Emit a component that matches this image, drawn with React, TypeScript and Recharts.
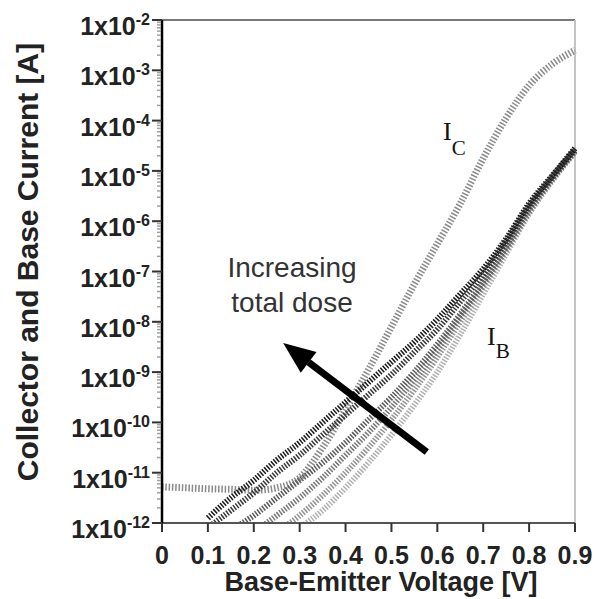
import React from 'react'
import { LineChart, Line, XAxis, YAxis, ReferenceLine } from 'recharts'

// base-emitter voltage [V]
const volts = [0, 0.05, 0.1, 0.15, 0.2, 0.25, 0.3, 0.35, 0.4, 0.45, 0.5, 0.55, 0.6, 0.65, 0.7, 0.75, 0.8, 0.85, 0.9]

// log10 of current [A]
const icLog = [-11.28, -11.3, -11.32, -11.33, -11.35, -11.3, -11.1, -10.5, -9.75, -8.95, -8.1, -7.25, -6.45, -5.65, -4.75, -3.95, -3.3, -2.88, -2.6]

// base current, one curve per dose step (1 = pre-rad, 6 = highest dose)
const ib1 = [null, null, null, null, null, null, -12.1, -11.75, -11.3, -10.8, -10.25, -9.65, -9.0, -8.25, -7.45, -6.65, -5.85, -5.2, -4.63]
const ib2 = [null, null, null, null, null, -12.2, -11.85, -11.45, -11.0, -10.5, -9.95, -9.35, -8.7, -8.0, -7.3, -6.58, -5.82, -5.18, -4.62]
const ib3 = [null, null, null, null, -12.2, -11.85, -11.5, -11.1, -10.65, -10.2, -9.7, -9.15, -8.55, -7.9, -7.25, -6.55, -5.8, -5.17, -4.6]
const ib4 = [null, null, null, -12.15, -11.85, -11.5, -11.15, -10.8, -10.4, -9.95, -9.5, -9.0, -8.45, -7.85, -7.2, -6.5, -5.75, -5.15, -4.6]
const ib5 = [null, null, -12.1, -11.75, -11.4, -11.0, -10.65, -10.25, -9.85, -9.45, -9.05, -8.6, -8.15, -7.6, -7.05, -6.4, -5.7, -5.12, -4.57]
const ib6 = [null, null, -11.9, -11.5, -11.15, -10.75, -10.4, -10.0, -9.6, -9.2, -8.8, -8.4, -7.95, -7.45, -6.95, -6.35, -5.65, -5.1, -4.55]

const xTicks = [0, 0.1, 0.2, 0.3, 0.4, 0.5, 0.6, 0.7, 0.8, 0.9]
const yMajor = [-12, -11, -10, -9, -8, -7, -6, -5, -4, -3, -2]

// arrow "increasing total dose": tail -> head
const arrowFrom = { x: 0.577, y: -10.59 }
const arrowTo = { x: 0.264, y: -8.42 }

const ibSeries = [
  { key: 'b1', color: '#b0b0b0' },
  { key: 'b2', color: '#939393' },
  { key: 'b3', color: '#777777' },
  { key: 'b4', color: '#5a5a5a' },
  { key: 'b5', color: '#363636' },
  { key: 'b6', color: '#1a1a1a' },
]

const data = volts.map((v, i) => ({
  v,
  ic: icLog[i],
  b1: ib1[i],
  b2: ib2[i],
  b3: ib3[i],
  b4: ib4[i],
  b5: ib5[i],
  b6: ib6[i],
}))

// log-spaced minor ticks between decades
const yMinor: number[] = []
yMajor.slice(0, -1).forEach((d) => {
  for (let k = 2; k <= 9; k++) yMinor.push(d + Math.log10(k))
})
const yTicks = [...yMajor, ...yMinor].sort((a, b) => a - b)

const font = 'Liberation Sans, Arial, sans-serif'

function YTick(props: any) {
  const { x, y, payload } = props
  const v = payload.value
  if (!Number.isInteger(v)) {
    return <line x1={x - 5} x2={x - 1} y1={y} y2={y} stroke="#a0a0a0" strokeWidth={1.5} />
  }
  return (
    <g>
      <line x1={x - 10} x2={x} y1={y} y2={y} stroke="#333" strokeWidth={2} />
      <text x={x - 12} y={y + 15} textAnchor="end" fontFamily={font} fontWeight="bold" fontSize={25} fill="#222">
        <tspan>1x10</tspan>
        <tspan fontSize={16} dy={-10}>{v}</tspan>
      </text>
    </g>
  )
}

function XTick(props: any) {
  const { x, y, payload } = props
  return (
    <g>
      <line x1={x} x2={x} y1={y} y2={y + 9} stroke="#333" strokeWidth={2} />
      <text x={x} y={y + 41} textAnchor="middle" fontFamily={font} fontWeight="bold" fontSize={25} fill="#222">
        {String(payload.value)}
      </text>
    </g>
  )
}

function Arrow(props: any) {
  const { x1, y1, x2, y2 } = props
  const ang = Math.atan2(y2 - y1, x2 - x1)
  const head = 32
  const half = 13
  const bx = x2 - head * Math.cos(ang)
  const by = y2 - head * Math.sin(ang)
  const nx = -Math.sin(ang)
  const ny = Math.cos(ang)
  return (
    <g>
      <line x1={x1} y1={y1} x2={bx} y2={by} stroke="#000" strokeWidth={7} />
      <polygon
        points={`${x2},${y2} ${bx + nx * half},${by + ny * half} ${bx - nx * half},${by - ny * half}`}
        fill="#000"
      />
    </g>
  )
}

export default function App() {
  return (
    <div style={{ position: 'absolute', left: 0, top: 0, width: 596, height: 599, background: '#fff' }}>
      <LineChart width={596} height={599} data={data} margin={{ top: 20, right: 21, bottom: 0, left: 0 }}>
        <XAxis
          dataKey="v"
          type="number"
          domain={[0, 0.9]}
          ticks={xTicks}
          interval={0}
          height={76}
          tickSize={0}
          tickMargin={0}
          tick={<XTick />}
          axisLine={{ stroke: '#555', strokeWidth: 2 }}
          tickLine={false}
        />
        <YAxis
          type="number"
          domain={[-12, -2]}
          allowDataOverflow
          ticks={yTicks}
          interval={0}
          width={162}
          tickSize={0}
          tickMargin={0}
          tick={<YTick />}
          axisLine={{ stroke: '#000', strokeWidth: 2.5 }}
          tickLine={false}
        />
        <ReferenceLine y={-2} stroke="#7a7a7a" strokeWidth={2} />
        <ReferenceLine x={0.9} stroke="#c4c4c4" strokeWidth={2} />

        <Line
          type="monotone"
          dataKey="ic"
          stroke="#8a8a8a"
          strokeWidth={7}
          strokeDasharray="1.5 1.8"
          dot={false}
          activeDot={false}
          isAnimationActive={false}
        />
        {ibSeries.map((s) => (
          <Line
            key={s.key}
            type="monotone"
            dataKey={s.key}
            stroke={s.color}
            strokeWidth={6}
            strokeDasharray="1.5 1.5"
            dot={false}
            activeDot={false}
            isAnimationActive={false}
          />
        ))}

        <ReferenceLine segment={[arrowFrom, arrowTo]} shape={(p: any) => <Arrow {...p} />} />
      </LineChart>

      <svg width={596} height={599} style={{ position: 'absolute', left: 0, top: 0, pointerEvents: 'none' }}>
        <text
          x={38}
          y={262}
          transform="rotate(-90 38 262)"
          textAnchor="middle"
          fontFamily={font}
          fontWeight="bold"
          fontSize={30}
          fill="#222"
        >
          Collector and Base Current [A]
        </text>
        <text x={381} y={591} textAnchor="middle" fontFamily={font} fontWeight="bold" fontSize={27} fill="#222">
          Base-Emitter Voltage [V]
        </text>
        <text x={292} y={277} textAnchor="middle" fontFamily={font} fontSize={28} fill="#333">
          Increasing
        </text>
        <text x={292} y={312} textAnchor="middle" fontFamily={font} fontSize={28} fill="#333">
          total dose
        </text>
        <text x={443} y={140} fontFamily="Liberation Serif, Times New Roman, serif" fontSize={26} fill="#111">
          I<tspan fontSize={21} dy={15}>C</tspan>
        </text>
        <text x={487} y={345} fontFamily="Liberation Serif, Times New Roman, serif" fontSize={26} fill="#111">
          I<tspan fontSize={21} dy={13}>B</tspan>
        </text>
      </svg>
    </div>
  )
}
